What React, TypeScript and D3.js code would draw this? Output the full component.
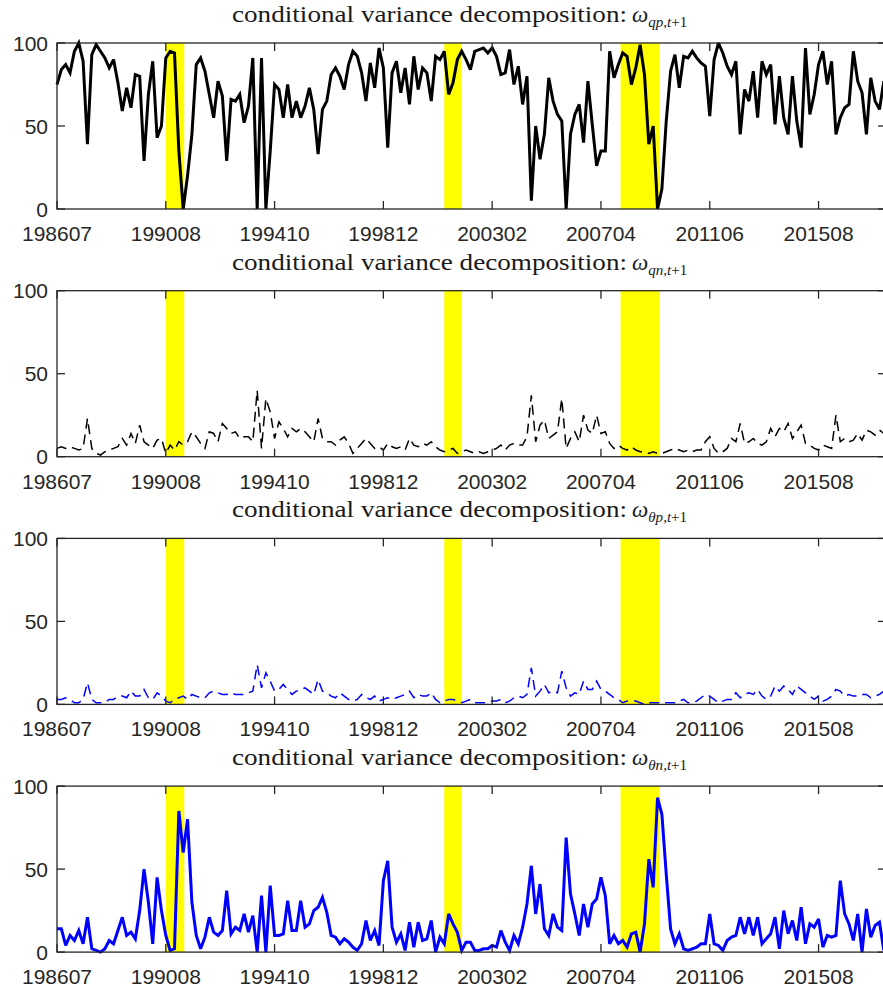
import React from "react";
import * as d3 from "d3";

// tick labels along the month axis (index of month since start)
const tickMonths = [0, 50, 100, 150, 200, 250, 300, 350];
const tickLabels = ["198607", "199008", "199410", "199812", "200302", "200704", "201106", "201508"];
const yTicks = [0, 50, 100];

// NBER recessions, in month index
const recessionStart = [50, 178, 259];
const recessionEnd = [58.5, 186, 277];

// shares, one value every second month
const qpShare = [
  75, 84, 87, 82, 95, 100, 89, 39, 93, 99,
  95, 91, 85, 90, 76, 59, 73, 61, 81, 80,
  29, 69, 89, 43, 50, 91, 95, 94, 35, 0,
  20, 45, 87, 91, 83, 69, 55, 77, 68, 29,
  66, 65, 69, 52, 62, 91, 0, 91, 0, 35,
  75, 72, 55, 75, 55, 65, 55, 62, 73, 60,
  33, 60, 65, 81, 85, 80, 72, 87, 95, 92,
  82, 65, 88, 73, 97, 85, 37, 82, 89, 70,
  85, 63, 92, 72, 85, 82, 65, 92, 90, 95,
  69, 76, 90, 95, 90,
  84, 95, 96, 97, 94, 97, 92, 81, 82, 96,
  75, 86, 63, 80, 5, 50, 30, 45, 79, 65,
  57, 53, 0, 45, 57, 63, 40, 77, 51, 26,
  35, 35, 95, 79, 87, 94, 92, 75, 85, 99,
  81, 39, 50, 0, 12, 53, 83, 93, 73, 92,
  91, 95, 91, 88, 86, 56, 90, 100, 94, 86,
  81, 89, 45, 72, 65, 83, 55, 89, 81, 87,
  51, 80, 55, 45, 80, 53, 37, 97, 57, 69,
  87, 95, 75, 89, 45, 55, 61, 63, 95, 77,
  70, 45, 79, 65, 60, 77,
];

const qnShare = [
  5, 6, 5, 6, 5, 4, 5, 23, 5, 2,
  1, 3, 4, 5, 6, 11, 7, 14, 8, 19,
  9, 7, 5, 10, 11, 2, 7, 4, 9, 7,
  9, 15, 12, 8, 5, 15, 14, 9, 20, 17,
  14, 15, 11, 12, 12, 9, 40, 5, 35, 27,
  11, 21, 17, 12, 17, 15, 17, 15, 12, 9,
  23, 11, 9, 9, 7, 10, 12, 8, 2, 5,
  8, 11, 8, 5, 6, 4, 8, 6, 5, 6,
  4, 11, 7, 6, 8, 7, 9, 6, 4, 3,
  4, 5, 2, 3, 4,
  3, 2, 3, 2, 3, 4, 5, 7, 4, 7,
  8, 7, 7, 12, 37, 9, 19, 22, 11, 13,
  15, 35, 5, 11, 15, 9, 25, 16, 14, 25,
  14, 15, 8, 5, 7, 5, 4, 6, 4, 3,
  3, 2, 3, 2, 2, 3, 4, 5, 4, 3,
  4, 3, 4, 4, 9, 12, 5, 2, 3, 5,
  11, 9, 20, 8, 9, 11, 8, 7, 9, 17,
  12, 17, 15, 20, 11, 15, 19, 8, 7, 5,
  4, 7, 6, 5, 25, 9, 11, 9, 10, 14,
  10, 16, 15, 13, 16, 14,
];

const thetaPShare = [
  3, 3, 4, 3, 1, 1, 3, 13, 3, 1,
  1, 1, 3, 3, 5, 5, 4, 8, 5, 5,
  9, 4, 3, 7, 5, 2, 1, 3, 4, 5,
  3, 6, 5, 4, 4, 7, 8, 7, 6, 6,
  7, 6, 6, 6, 7, 8, 24, 10, 19, 14,
  8, 9, 12, 9, 6, 8, 9, 10, 8, 6,
  15, 8, 7, 5, 4, 7, 5, 3, 2, 3,
  6, 4, 3, 5, 2, 3, 4, 3, 4, 5,
  6, 8, 4, 6, 5, 5, 7, 3, 1, 2,
  3, 3, 2, 1, 2,
  3, 1, 1, 1, 1, 2, 2, 3, 1, 2,
  4, 5, 4, 6, 22, 5, 8, 12, 7, 8,
  7, 20, 10, 5, 7, 6, 14, 9, 9, 14,
  9, 8, 6, 4, 3, 1, 2, 2, 2, 1,
  0, 1, 1, 1, 1, 1, 1, 1, 2, 3,
  1, 1, 2, 4, 6, 5, 3, 1, 2, 3,
  3, 7, 4, 6, 7, 6, 9, 5, 3, 5,
  11, 8, 11, 9, 6, 11, 9, 7, 5, 3,
  5, 2, 3, 5, 9, 8, 5, 6, 5, 5,
  6, 6, 4, 5, 6, 8,
];

const thetaNShare = [
  14, 14, 4, 10, 7, 13, 5, 21, 2, 1,
  0, 2, 7, 5, 13, 21, 10, 12, 8, 25,
  50, 30, 5, 45, 25, 10, 1, 2, 85, 60,
  80, 30, 10, 2, 9, 21, 12, 10, 13, 37,
  11, 15, 13, 23, 12, 22, 0, 34, 0, 40,
  10, 10, 11, 31, 13, 13, 31, 15, 17, 25,
  27, 33, 24, 10, 9, 5, 8, 6, 3, 1,
  5, 19, 7, 13, 4, 43, 55, 15, 6, 11,
  1, 18, 3, 18, 7, 8, 19, 0, 9, 5,
  23, 17, 12, 1, 6,
  6, 1, 1, 2, 2, 4, 3, 13, 6, 1,
  10, 5, 15, 29, 52, 23, 41, 14, 10, 23,
  15, 13, 69, 35, 23, 10, 29, 15, 29, 32,
  45, 34, 5, 10, 5, 7, 3, 11, 12, 0,
  17, 56, 39, 93, 83, 47, 14, 5, 11, 2,
  1, 2, 3, 5, 5, 23, 5, 4, 1, 7,
  9, 10, 21, 11, 21, 10, 21, 5, 8, 11,
  21, 2, 25, 11, 19, 7, 27, 5, 17, 15,
  20, 3, 10, 9, 10, 43, 23, 17, 7, 23,
  0, 26, 9, 16, 18, 1,
];

const panels = [
  { data: qpShare, sym: "qp", color: "#000000", width: 3, dash: undefined },
  { data: qnShare, sym: "qn", color: "#000000", width: 1.5, dash: "10 6" },
  { data: thetaPShare, sym: "θp", color: "#0000ff", width: 1.5, dash: "10 6" },
  { data: thetaNShare, sym: "θn", color: "#0000ff", width: 3, dash: undefined },
];

const W = 883;
const H = 992;
const left = 57;
const right = 886;
const panelH = 166;
const panelGap = 247.7;
const firstTop = 43;
const axisColor = "#262626";
const tickLen = 8;
const serif = "'Liberation Serif', 'DejaVu Serif', serif";
const sans = "'Liberation Sans', Arial, sans-serif";

export default function App() {
  const x = d3.scaleLinear().domain([0, 381]).range([left, right]);

  return (
    <div style={{ position: "absolute", left: 0, top: 0 }}>
      <svg width={W} height={H} style={{ display: "block", background: "#fff" }}>
        {panels.map((p, pi) => {
          const top = firstTop + pi * panelGap;
          const bottom = top + panelH;
          const y = d3.scaleLinear().domain([0, 100]).range([bottom, top]);
          const line = d3
            .line<number>()
            .x((_, i) => x(i * 2))
            .y((d) => y(d));

          return (
            <g key={pi}>
              {/* recession bands */}
              {recessionStart.map((s, i) => (
                <rect
                  key={i}
                  x={x(s)}
                  y={top}
                  width={x(recessionEnd[i]) - x(s)}
                  height={panelH}
                  fill="#ffff00"
                />
              ))}

              <path
                d={line(p.data) || ""}
                fill="none"
                stroke={p.color}
                strokeWidth={p.width}
                strokeDasharray={p.dash}
                strokeLinejoin="miter"
                strokeMiterlimit={3}
              />

              {/* box */}
              <rect
                x={left}
                y={top}
                width={right - left}
                height={panelH}
                fill="none"
                stroke={axisColor}
                strokeWidth={1.3}
              />

              {/* x ticks */}
              {tickMonths.map((m, i) => (
                <g key={i}>
                  <line x1={x(m)} x2={x(m)} y1={bottom} y2={bottom - tickLen} stroke={axisColor} strokeWidth={1.3} />
                  <line x1={x(m)} x2={x(m)} y1={top} y2={top + tickLen} stroke={axisColor} strokeWidth={1.3} />
                  <text x={x(m)} y={bottom + 32} textAnchor="middle" fontFamily={sans} fontSize={21} fill={axisColor}>
                    {tickLabels[i]}
                  </text>
                </g>
              ))}

              {/* y ticks */}
              {yTicks.map((t) => (
                <g key={t}>
                  <line x1={left} x2={left + tickLen} y1={y(t)} y2={y(t)} stroke={axisColor} strokeWidth={1.3} />
                  <line x1={right} x2={right - tickLen} y1={y(t)} y2={y(t)} stroke={axisColor} strokeWidth={1.3} />
                  <text x={48} y={y(t) + 7.5} textAnchor="end" fontFamily={sans} fontSize={21} fill={axisColor}>
                    {t}
                  </text>
                </g>
              ))}

              {/* title */}
              <text
                x={232}
                y={top - 21}
                fontFamily={serif}
                fontSize={22.5}
                textLength={395}
                lengthAdjust="spacingAndGlyphs"
                fill="#1a1a1a"
              >
                conditional variance decomposition:
              </text>
              <text x={632} y={top - 21} fontFamily={serif} fontSize={23} fill="#1a1a1a">
                <tspan fontStyle="italic">ω</tspan>
                <tspan fontStyle="italic" fontSize={15} dy={5}>
                  {p.sym},t
                </tspan>
                <tspan fontSize={15}>+1</tspan>
              </text>
            </g>
          );
        })}
      </svg>
    </div>
  );
}
